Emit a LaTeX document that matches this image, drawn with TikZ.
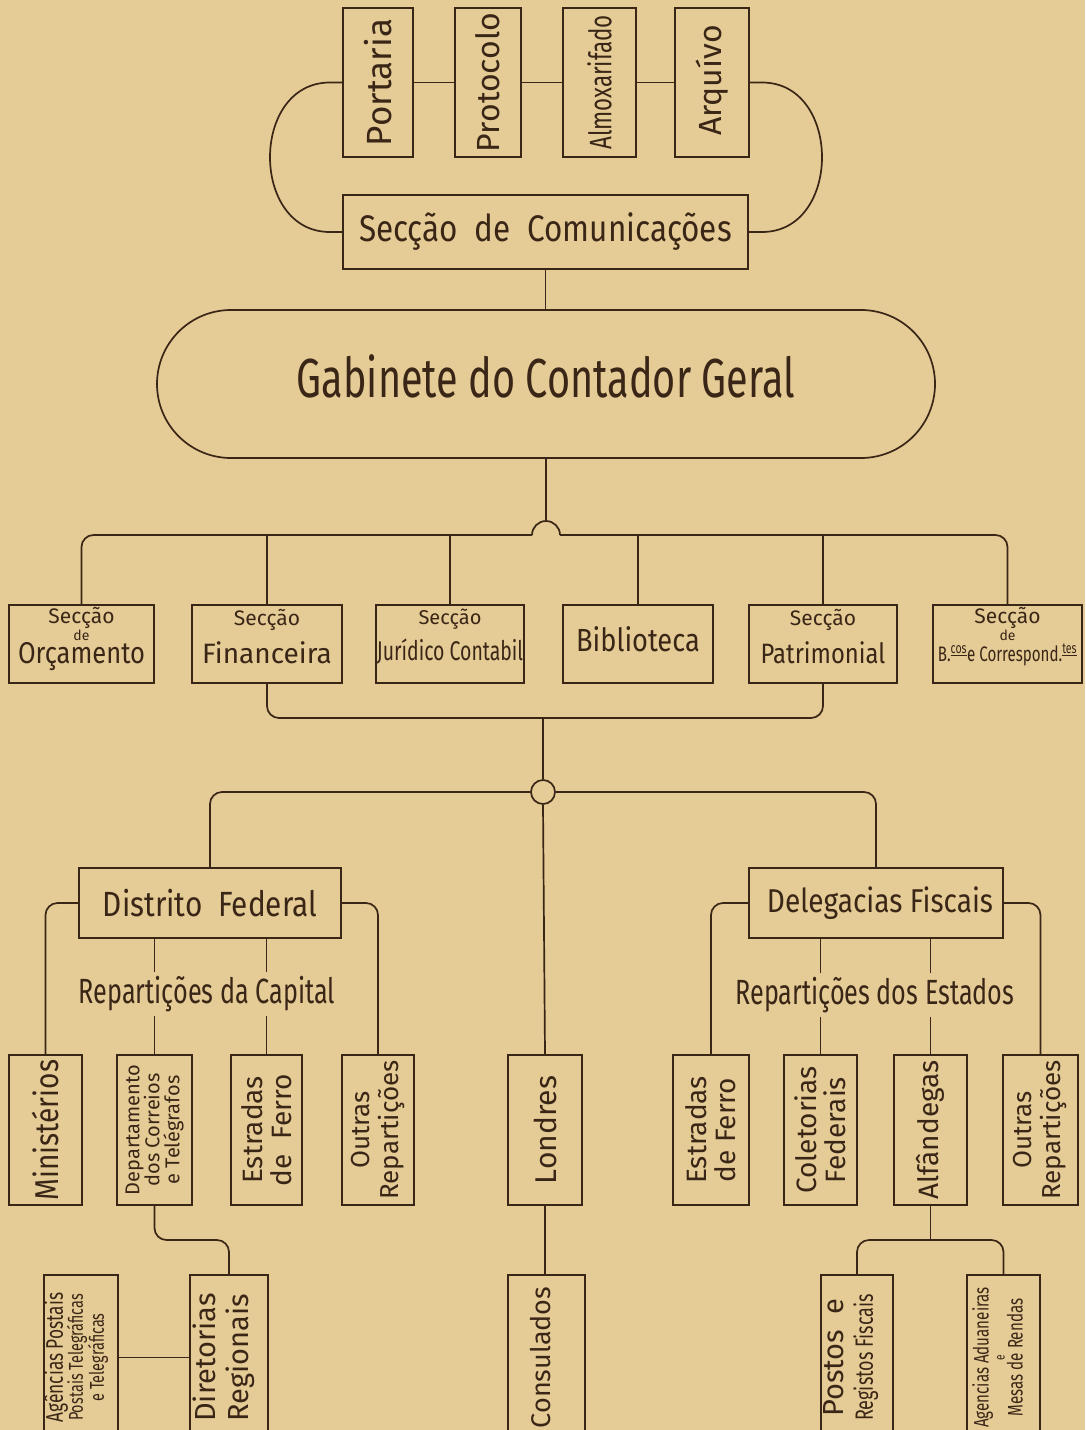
\documentclass[tikz,border=0pt]{standalone}
\usepackage{fontspec}
\newfontfamily\fa{Fira Sans}
\newfontfamily\fb[FakeStretch=0.85]{Fira Sans}
\newfontfamily\fc[FakeStretch=0.72]{Fira Sans}
\newcommand\fsz[1]{\fontsize{#1}{#1}\selectfont}
\definecolor{paper}{RGB}{229,203,150}
\definecolor{ink}{RGB}{58,38,22}
\begin{document}
\begin{tikzpicture}[x=1pt,y=-1pt,color=ink,
  box/.style={draw, line width=1.7pt, inner sep=0pt},
  conn/.style={line width=1.7pt},
  rc/.style={line width=1.7pt, rounded corners=12pt},
  rot/.style={rotate=90, align=center, inner sep=0pt},
  txt/.style={align=center, inner sep=0pt},
  lbl/.style={fill=paper, inner sep=4pt}]
\fill[paper] (0,0) rectangle (1085,1430);
\useasboundingbox (0,0) rectangle (1085,1430);
\clip (0,0) rectangle (1085,1430);

% ---------- top ----------
\node[box, minimum width=70pt, minimum height=149pt] (portaria) at (378,82.5) {};
\node[box, minimum width=66pt, minimum height=149pt] (protocolo) at (488,82.5) {};
\node[box, minimum width=73pt, minimum height=149pt] (almox) at (599.5,82.5) {};
\node[box, minimum width=74pt, minimum height=149pt] (arquivo) at (712,82.5) {};
\node[box, minimum width=405pt, minimum height=74pt] (secom) at (545.5,232) {};
\node[box, minimum width=778pt, minimum height=148pt, rounded corners=74pt] (gab) at (546,384) {};

\node[rot, font=\fa\fsz{35}] (tportaria) at (portaria) {Portaria};
\node[rot, font=\fa\fsz{32}] (tprotocolo) at (protocolo) {Protocolo};
\node[rot, font=\fc\fsz{31}] (talmox) at (almox) {Almoxarifado};
\node[rot, font=\fa\fsz{32}] (tarquivo) at ([yshift=2pt]arquivo.center) {Arquívo};
\node[txt, font=\fb\fsz{37}] (tsecom) at (secom) {Secção\ \ de\ \ Comunicações};
\node[txt, font=\fc\fsz{55}] (tgab) at ([yshift=8pt]gab.center) {Gabinete do Contador Geral};

\draw[conn] (portaria.east) -- (protocolo.west);
\draw[conn] (protocolo.east) -- (almox.west);
\draw[conn] (almox.east) -- (arquivo.west);
\coordinate (la) at (330,82.5);
\coordinate (lb) at (330,232);
\coordinate (ra) at (762,82.5);
\coordinate (rb) at (762,232);
\draw[conn] (portaria.west) -- (la) .. controls +(-80,0) and +(-80,0) .. (lb) -- (secom.west);
\draw[conn] (arquivo.east) -- (ra) .. controls +(80,0) and +(80,0) .. (rb) -- (secom.east);
\draw[conn] (secom.south) -- (secom.south |- gab.north);

% ---------- sections ----------
\node[box, minimum width=145pt, minimum height=78pt] (orc) at (81.5,644) {};
\node[box, minimum width=150pt, minimum height=78pt] (fin) at (267,644) {};
\node[box, minimum width=148pt, minimum height=78pt] (jur) at (450,644) {};
\node[box, minimum width=150pt, minimum height=78pt] (bib) at (638,644) {};
\node[box, minimum width=148pt, minimum height=78pt] (pat) at (823,644) {};
\node[box, minimum width=149pt, minimum height=78pt] (bco) at (1007.5,644) {};

\node[txt, font=\fa\fsz{21}] (torc1) at ([yshift=26pt]orc.center) {Secção};
\node[txt, font=\fa\fsz{14}] (torc2) at ([yshift=9pt]orc.center) {de};
\node[txt, font=\fb\fsz{30}] (torc3) at ([yshift=-13pt]orc.center) {Orçamento};
\node[txt, font=\fa\fsz{21}] (tfin1) at ([yshift=24pt]fin.center) {Secção};
\node[txt, font=\fa\fsz{28}] (tfin2) at ([yshift=-9pt]fin.center) {Financeira};
\node[txt, font=\fa\fsz{20}] (tjur1) at ([yshift=25pt]jur.center) {Secção};
\node[txt, font=\fc\fsz{27}] (tjur2) at ([yshift=-8pt]jur.center) {Jurídico Contabil};
\node[txt, font=\fb\fsz{32}] (tbib) at ([yshift=5pt]bib.center) {Biblioteca};
\node[txt, font=\fa\fsz{21}] (tpat1) at ([yshift=24pt]pat.center) {Secção};
\node[txt, font=\fb\fsz{28}] (tpat2) at ([yshift=-9pt]pat.center) {Patrimonial};
\node[txt, font=\fa\fsz{21}] (tbco1) at ([yshift=26pt]bco.center) {Secção};
\node[txt, font=\fa\fsz{14}] (tbco2) at ([yshift=9pt]bco.center) {de};
\node[txt, font=\fc\fsz{21}] (tbco3) at ([yshift=-11pt]bco.center) {B.\textsuperscript{\underline{cos}}e Correspond.\textsuperscript{\underline{tes}}};

\coordinate (hopL) at (532,535);
\coordinate (hopR) at (560,535);
\coordinate (hoptop) at (546,521);
\draw[rc] (orc.north) |- (hopL);
\draw[conn] (hopL) arc[start angle=180, end angle=360, radius=14];
\draw[rc] (hopR) -| (bco.north);
\draw[conn] (gab.south) -- (hoptop);
\draw[conn] (fin.north) -- (fin.north |- hopL);
\draw[conn] (jur.north) -- (jur.north |- hopL);
\draw[conn] (bib.north) -- (bib.north |- hopL);
\draw[conn] (pat.north) -- (pat.north |- hopL);

\coordinate (brk) at (543,718);
\draw[rc] (fin.south) |- (brk) -| (pat.south);
\node[draw, circle, line width=1.7pt, minimum size=24pt, inner sep=0pt] (circ) at (543,792) {};
\draw[conn] (brk) -- (circ.north);

% ---------- second level ----------
\node[box, minimum width=262pt, minimum height=70pt] (df) at (210,903) {};
\node[box, minimum width=254pt, minimum height=70pt] (dlg) at (876,903) {};
\node[txt, font=\fb\fsz{35}] (tdf) at (df) {Distrito\ \ Federal};
\node[txt, font=\fb\fsz{33}] (tdlg) at ([xshift=4pt]dlg.center) {Delegacias Fiscais};

\draw[rc] (circ.west) -| (df.north);
\draw[rc] (circ.east) -| (dlg.north);

\node[box, minimum width=73pt, minimum height=150pt] (min) at (45.5,1130) {};
\node[box, minimum width=75pt, minimum height=150pt] (dep) at (154.5,1130) {};
\node[box, minimum width=71pt, minimum height=150pt] (est1) at (266.5,1130) {};
\node[box, minimum width=72pt, minimum height=150pt] (out1) at (378,1130) {};
\node[box, minimum width=74pt, minimum height=150pt] (lon) at (545,1130) {};
\node[box, minimum width=76pt, minimum height=150pt] (est2) at (711,1130) {};
\node[box, minimum width=73pt, minimum height=150pt] (col) at (820.5,1130) {};
\node[box, minimum width=73pt, minimum height=150pt] (alf) at (930.5,1130) {};
\node[box, minimum width=75pt, minimum height=150pt] (out2) at (1040.5,1130) {};

\node[rot, font=\fb\fsz{33}] (tmin) at (min) {Ministérios};
\node[rot, font=\fa\fsz{20}] (tdep) at (dep) {Departamento\\dos Correios\\e Telégrafos};
\node[rot, font=\fa\fsz{28}] (test1) at (est1) {Estradas\\[1pt]de\ \ Ferro};
\node[rot, font=\fa\fsz{26}] (tout1) at (out1) {Outras\\[3pt]Repartições};
\node[rot, font=\fa\fsz{30}] (tlon) at (lon) {Londres};
\node[rot, font=\fa\fsz{28}] (test2) at (est2) {Estradas\\[1pt]de Ferro};
\node[rot, font=\fa\fsz{28}] (tcol) at (col) {Coletorias\\[1pt]Federais};
\node[rot, font=\fa\fsz{28}] (talf) at (alf) {Alfândegas};
\node[rot, font=\fa\fsz{26}] (tout2) at (out2) {Outras\\[3pt]Repartições};

\draw[conn] (circ.south) -- (lon.north);
\draw[rc] (df.west) -| (min.north);
\draw[rc] (df.east) -| (out1.north);
\draw[conn] (df.south -| dep.north) -- (dep.north);
\draw[conn] (df.south -| est1.north) -- (est1.north);
\draw[rc] (dlg.west) -| (est2.north);
\draw[rc] (dlg.east) -| (out2.north);
\draw[conn] (dlg.south -| col.north) -- (col.north);
\draw[conn] (dlg.south -| alf.north) -- (alf.north);

\node[lbl, font=\fc\fsz{35}] (lcap) at (207,994) {Repartições da Capital};
\node[lbl, font=\fc\fsz{35}] (lest) at (875,995) {Repartições dos Estados};

% ---------- bottom ----------
\node[box, minimum width=74pt, minimum height=165pt] (ag) at (81,1357.5) {};
\node[box, minimum width=78pt, minimum height=165pt] (dir) at (229,1357.5) {};
\node[box, minimum width=77pt, minimum height=165pt] (con) at (546.5,1357.5) {};
\node[box, minimum width=72pt, minimum height=165pt] (pos) at (857,1357.5) {};
\node[box, minimum width=73pt, minimum height=165pt] (adu) at (1003.5,1357.5) {};

\node[rot, font=\fc\fsz{24}, yshift=5pt] (tag) at (ag) {Agências Postais\\[-4pt]{\fsz{20}Postais Telegráficas}\\[-3pt]{\fsz{20}e Telegráficas}};
\node[rot, font=\fa\fsz{29}, yshift=5pt] (tdir) at (dir) {Diretorias\\[4pt]Regionais};
\node[rot, font=\fa\fsz{27}, yshift=6pt] (tcon) at (con) {Consulados};
\node[rot, font=\fa\fsz{29}, yshift=6pt] (tpos) at (pos) {Postos\ \ e\\{\fc\fsz{25}Registos Fiscais}};
\node[rot, font=\fc\fsz{21}, yshift=6pt] (tadu) at (adu) {Agencias Aduaneiras\\[-5pt]{\fsz{14}e}\\[-3pt]Mesas de Rendas};

\coordinate (depjoin) at (154.5,1240);
\coordinate (alfjoin) at (930.5,1240);
\draw[rc] (dep.south) -- (depjoin) -| (dir.north);
\draw[conn] (ag.east) -- (dir.west);
\draw[conn] (lon.south) -- (lon.south |- con.north);
\draw[conn] (alf.south) -- (alfjoin);
\draw[rc] (pos.north) |- (alfjoin) -| (adu.north);
\end{tikzpicture}
\end{document}
